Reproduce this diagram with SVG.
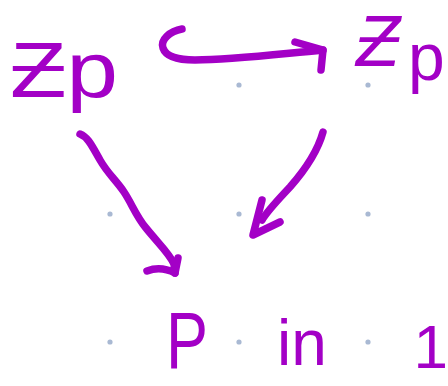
<svg xmlns="http://www.w3.org/2000/svg" width="448" height="386" viewBox="0 0 448 386">
<style>
.dot{fill:#a9b9d3}
.lbl{font-family:"Liberation Sans","DejaVu Sans",sans-serif;fill:#a300c6}
.c{fill:none;stroke:#a300c6;stroke-width:7.5;stroke-linecap:round;stroke-linejoin:round}
</style>
<rect width="448" height="386" fill="#ffffff"/>
<g id="grid">
<circle class="dot" cx="110" cy="85" r="2.6"/><circle class="dot" cx="239" cy="85" r="2.6"/><circle class="dot" cx="368" cy="85" r="2.6"/>
<circle class="dot" cx="110" cy="214" r="2.6"/><circle class="dot" cx="239" cy="214" r="2.6"/><circle class="dot" cx="368" cy="214" r="2.6"/>
<circle class="dot" cx="110" cy="342" r="2.6"/><circle class="dot" cx="239" cy="342" r="2.6"/><circle class="dot" cx="368" cy="342" r="2.6"/>
</g>
<g id="connectors">
<path class="c" d="M182,29 C170,31 160,40 163,48 C166,57 180,60 195,60 C230,60 270,55 323,50"/>
<path class="c" d="M295,42 L323,50 L321,70"/>
<path class="c" d="M80,134 C88,137 92,146 100,160 C108,174 116,180 124,192 C132,204 136,216 146,228 C158,243 170,254 174,264 L175,273"/>
<path class="c" d="M147,271 C155,268 165,268 175,273 L178,258"/>
<path class="c" d="M323,132 C318,150 305,170 290,187 C278,200 268,210 262,220"/>
<path class="c" d="M262,200 L253,235 L280,222"/>
</g>
<g id="node-zp"><text class="lbl" x="10" y="97" font-size="78" textLength="108" lengthAdjust="spacingAndGlyphs">Ƶp</text></g>
<g id="node-zp-hat"><text class="lbl" x="356" y="66" font-size="72" font-style="italic">Ƶ<tspan x="408" y="80" font-size="66" font-style="normal">p</tspan></text></g>
<g id="node-p"><text class="lbl" x="166" y="368" font-size="80" textLength="42" lengthAdjust="spacingAndGlyphs">P</text></g>
<g id="node-in"><text class="lbl" x="277" y="365" font-size="64">in</text></g>
<g id="node-1"><text class="lbl" x="448" y="368" font-size="62" text-anchor="end">1</text></g>
</svg>
